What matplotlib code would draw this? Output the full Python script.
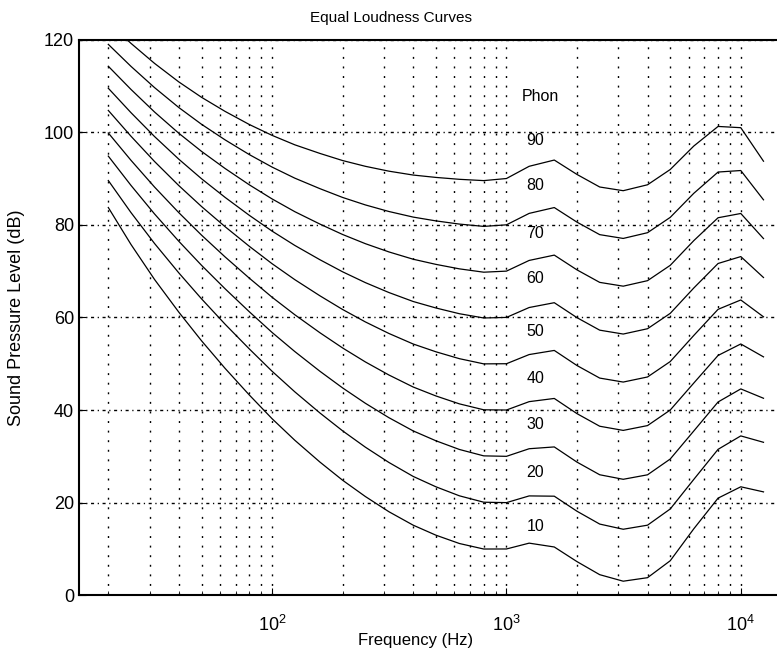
import matplotlib
matplotlib.use("Agg")
import matplotlib.pyplot as plt
from matplotlib.ticker import LogLocator, NullFormatter

# ISO frequencies (Hz) and SPL (dB), one list per phon level
freqs = [20, 25, 31.5, 40, 50, 63, 80, 100, 125, 160, 200, 250, 315, 400, 500,
         630, 800, 1000, 1250, 1600, 2000, 2500, 3150, 4000, 5000, 6300, 8000,
         10000, 12500]

spl_10 = [83.75, 75.76, 68.21, 61.14, 54.96, 49.01, 43.24, 38.13, 33.48, 28.77, 24.84, 21.33, 18.05, 15.14, 12.98,
          11.18, 9.99, 10.00, 11.26, 10.43, 7.27, 4.45, 3.04, 3.80, 7.46, 14.35, 20.98, 23.43, 22.33]
spl_20 = [89.58, 82.65, 75.98, 69.62, 64.02, 58.55, 53.19, 48.38, 43.94, 39.37, 35.51, 31.99, 28.69, 25.67, 23.43,
          21.48, 20.10, 20.01, 21.46, 21.40, 18.15, 15.38, 14.26, 15.14, 18.64, 25.02, 31.52, 34.42, 33.04]
spl_30 = [94.85, 88.52, 82.36, 76.45, 71.26, 66.20, 61.22, 56.76, 52.64, 48.38, 44.78, 41.47, 38.36, 35.50, 33.37,
          31.49, 30.11, 30.01, 31.65, 32.04, 28.76, 26.03, 25.05, 26.02, 29.43, 35.48, 41.75, 44.57, 42.55]
spl_40 = [99.85, 93.94, 88.17, 82.63, 77.78, 73.08, 68.48, 64.37, 60.59, 56.70, 53.41, 50.40, 47.58, 44.98, 43.05,
          41.34, 40.06, 40.01, 41.82, 42.51, 39.23, 36.51, 35.61, 36.65, 40.01, 45.83, 51.80, 54.28, 51.49]
spl_50 = [104.72, 99.14, 93.69, 88.48, 83.96, 79.61, 75.36, 71.61, 68.17, 64.68, 61.72, 59.04, 56.55, 54.27, 52.59,
          51.10, 49.98, 50.01, 51.99, 52.88, 49.62, 46.91, 46.05, 47.15, 50.48, 56.11, 61.76, 63.78, 60.14]
spl_60 = [109.51, 104.23, 99.08, 94.18, 89.96, 85.94, 82.05, 78.65, 75.56, 72.47, 69.86, 67.53, 65.39, 63.45, 62.05,
          60.81, 59.89, 60.01, 62.15, 63.19, 59.96, 57.26, 56.42, 57.57, 60.89, 66.36, 71.66, 73.15, 68.63]
spl_70 = [114.26, 109.25, 104.38, 99.78, 95.87, 92.18, 88.64, 85.60, 82.85, 80.17, 77.92, 75.94, 74.16, 72.58, 71.47,
          70.50, 69.78, 70.01, 72.32, 73.47, 70.28, 67.58, 66.76, 67.95, 71.26, 76.59, 81.54, 82.46, 77.04]
spl_80 = [118.99, 114.23, 109.65, 105.34, 101.72, 98.36, 95.17, 92.48, 90.09, 87.82, 85.92, 84.31, 82.89, 81.68, 80.86,
          80.17, 79.67, 80.01, 82.48, 83.74, 80.59, 77.89, 77.07, 78.31, 81.62, 86.81, 91.41, 91.74, 85.41]
spl_90 = [123.71, 119.20, 114.88, 110.87, 107.55, 104.51, 101.67, 99.33, 97.29, 95.43, 93.89, 92.65, 91.60, 90.76, 90.25,
          89.84, 89.56, 90.01, 92.65, 94.00, 90.89, 88.18, 87.38, 88.66, 91.96, 97.02, 101.26, 100.99, 93.75]

phon_labels = ['10', '20', '30', '40', '50', '60', '70', '80', '90']
label_y = [14.9, 26.5, 36.8, 46.9, 57.0, 68.4, 78.2, 88.6, 98.3]

plt.rcParams['font.family'] = ['Liberation Sans', 'DejaVu Sans']
plt.rcParams['mathtext.fontset'] = 'custom'
plt.rcParams['mathtext.rm'] = 'Liberation Sans'
plt.rcParams['mathtext.it'] = 'Liberation Sans:italic'
plt.rcParams['lines.scale_dashes'] = False

fig = plt.figure(figsize=(7.77, 6.59), dpi=100)
# axes runs a little past the right edge, like the cropped original
ax = fig.add_axes([0.1017, 0.0967, 0.9048, 0.8431])

for spl in [spl_10, spl_20, spl_30, spl_40, spl_50, spl_60, spl_70, spl_80, spl_90]:
    ax.semilogx(freqs, spl, color='black', lw=0.9)

ax.set_xlim(15, 15000)
ax.set_ylim(0, 120)
ax.set_xticks([100, 1000, 10000])
ax.set_xticklabels(['$10^{2}$', '$10^{3}$', '$10^{4}$'])
ax.xaxis.set_minor_locator(LogLocator(base=10, subs=range(2, 10)))
ax.xaxis.set_minor_formatter(NullFormatter())
ax.set_yticks(range(0, 121, 20))

ax.xaxis.grid(True, which='both', color='black', linestyle=(0, (1.4, 5.5)), lw=1.0)
ax.yaxis.grid(True, which='major', color='black', linestyle=(0, (2.2, 2.6, 0.9, 2.6)), lw=1.0)

ax.tick_params(which='both', direction='in', colors='black', labelsize=13)
ax.tick_params(which='major', length=5, width=0.8)
ax.tick_params(which='minor', length=3, width=0.6)
ax.tick_params(axis='x', pad=14)

for side in ['left', 'bottom', 'top']:
    ax.spines[side].set_linewidth(1.5)
ax.spines['right'].set_visible(False)

ax.text(1394, 107.7, 'Phon', ha='center', va='center', fontsize=11.5)
for lab, y in zip(phon_labels, label_y):
    ax.text(1327, y, lab, ha='center', va='center', fontsize=11.5)

fig.text(391 / 777, 1 - 18 / 659, 'Equal Loudness Curves', ha='center', va='center', fontsize=11)
fig.text(416 / 777, 1 - 641 / 659, 'Frequency (Hz)', ha='center', va='center', fontsize=12)
fig.text(17 / 777, 1 - 318 / 659, 'Sound Pressure Level (dB)', ha='center', va='center',
         rotation=90, fontsize=13)

fig.savefig('out.png', dpi=100)
